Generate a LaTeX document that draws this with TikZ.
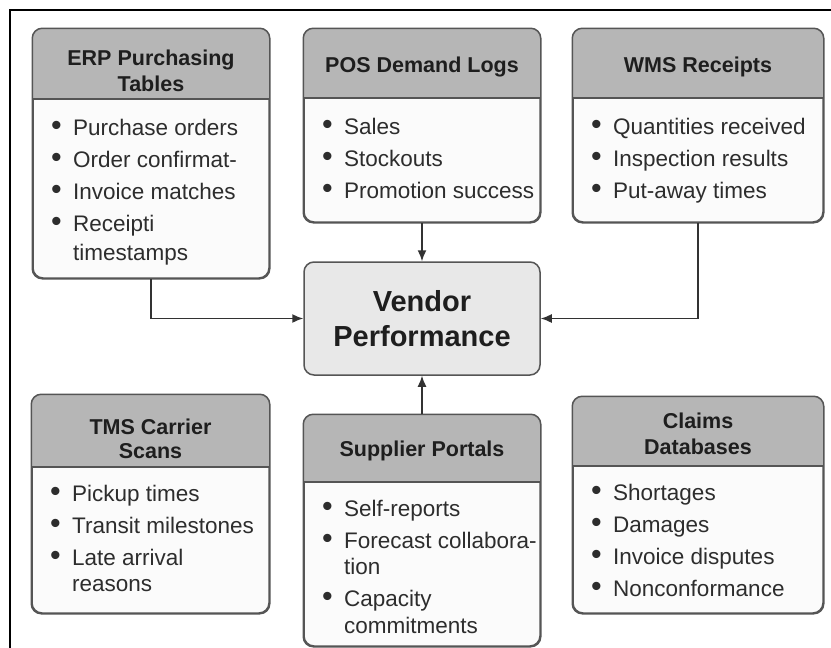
\documentclass[tikz,border=0pt]{standalone}
\usepackage{fontspec}
\usepackage{graphicx}
\setmainfont{Liberation Sans}
\usetikzlibrary{arrows.meta}

\definecolor{hdrgray}{RGB}{182,182,182}
\definecolor{cardfill}{RGB}{251,251,251}
\definecolor{coregray}{RGB}{232,232,232}
\definecolor{edgegray}{RGB}{85,85,85}
\definecolor{ink}{RGB}{30,30,30}
\definecolor{listink}{RGB}{45,45,45}
\definecolor{wire}{RGB}{50,50,50}

% bullet and continuation indent for list rows
\newcommand\bul{\makebox[22pt][l]{\raisebox{-0.6pt}{\scalebox{1.35}{\textbullet}}}}
\newcommand\cont{\hspace*{22pt}}

% source card: name, left, top, right, bottom, header bottom, header baseline, header text
\newcommand\srccard[8]{%
  \node[card, minimum width={(#4-#2)*1pt}, minimum height={(#5-#3)*1pt}]
       (#1) at ({(#2+#4)/2},{(#3+#5)/2}) {};
  \begin{scope}
    \clip[rounded corners=10pt] (#1.north west) rectangle (#1.south east);
    \fill[hdrgray] (#1.north west) rectangle (#4,#6);
  \end{scope}
  \draw[edgegray, line width=1.5pt] (#2,#6) -- (#4,#6);
  \draw[edgegray, line width=1.5pt, rounded corners=10pt]
       (#1.north west) rectangle (#1.south east);
  \node[hdrtext, anchor=base] (#1-head) at ({(#2+#4)/2},#7)
       {\begin{tabular}[t]{@{}c@{}}#8\end{tabular}};
}
% bulleted body of a card: name, left of bullets, first baseline, rows
\newcommand\srclist[4]{%
  \node[bodytext, anchor=base west] (#1) at (#2,#3)
       {\begin{tabular}[t]{@{}l@{}}#4\end{tabular}};
}

\begin{document}
\begin{tikzpicture}[x=1pt, y=-1pt,
  card/.style={draw=edgegray, line width=1.5pt, fill=cardfill,
               rounded corners=10pt, inner sep=0pt},
  hdrtext/.style={inner sep=0pt, text=ink,
                  font=\fontsize{21.5}{26}\selectfont\bfseries},
  bodytext/.style={inner sep=0pt, text=listink,
                   font=\fontsize{22.5}{32}\selectfont},
  core/.style={draw=edgegray, line width=1.5pt, fill=coregray,
               rounded corners=10pt, inner sep=0pt, align=center, text=ink,
               font=\fontsize{29}{35}\selectfont\bfseries},
  conn/.style={draw=wire, line width=1.5pt,
               -{Latex[length=11pt,width=9pt]}}]

\useasboundingbox (0,0) rectangle (831,648);
\fill[white] (0,0) rectangle (831,648);
\draw[black, line width=2pt] (10,648) -- (10,10) -- (831,10);

% central node
\node[core, minimum width=236pt, minimum height=113pt] (core) at (422,318.5)
     {Vendor\\Performance};

% top row of sources
\srccard{erp}{33}{29}{269}{278}{99}{65}{ERP Purchasing\\Tables}
\srclist{erp-list}{51}{135}{%
  \bul Purchase orders\\
  \bul Order confirmat-\\
  \bul Invoice matches\\
  \bul Receipti\\[-3pt]
  \cont timestamps}

\srccard{pos}{304}{29}{540}{222}{98}{72}{POS Demand Logs}
\srclist{pos-list}{322}{134}{%
  \bul Sales\\
  \bul Stockouts\\
  \bul Promotion success}

\srccard{wms}{573}{29}{823}{222}{98}{72}{WMS Receipts}
\srclist{wms-list}{591}{134}{%
  \bul Quantities received\\
  \bul Inspection results\\
  \bul Put-away times}

% bottom row of sources
\srccard{tms}{32}{395}{269}{613}{467}{434}{TMS Carrier\\[-2pt]Scans}
\srclist{tms-list}{50}{501}{%
  \bul Pickup times\\
  \bul Transit milestones\\
  \bul Late arrival\\[-6pt]
  \cont reasons}

\srccard{sup}{304}{415}{540}{646}{482}{456}{Supplier Portals}
\srclist{sup-list}{322}{516}{%
  \bul Self-reports\\
  \bul Forecast collabora-\\[-6pt]
  \cont tion\\
  \bul Capacity\\[-5pt]
  \cont commitments}

\srccard{clm}{573}{397}{823}{613}{466}{428}{Claims\\Databases}
\srclist{clm-list}{591}{500}{%
  \bul Shortages\\
  \bul Damages\\
  \bul Invoice disputes\\
  \bul Nonconformance}

% feeds into the central node
\draw[conn] (erp.south) |- (core.west);
\draw[conn] (pos.south) -- (core.north);
\draw[conn] (wms.south) |- (core.east);
\draw[conn] (sup.north) -- (core.south);

\end{tikzpicture}
\end{document}
